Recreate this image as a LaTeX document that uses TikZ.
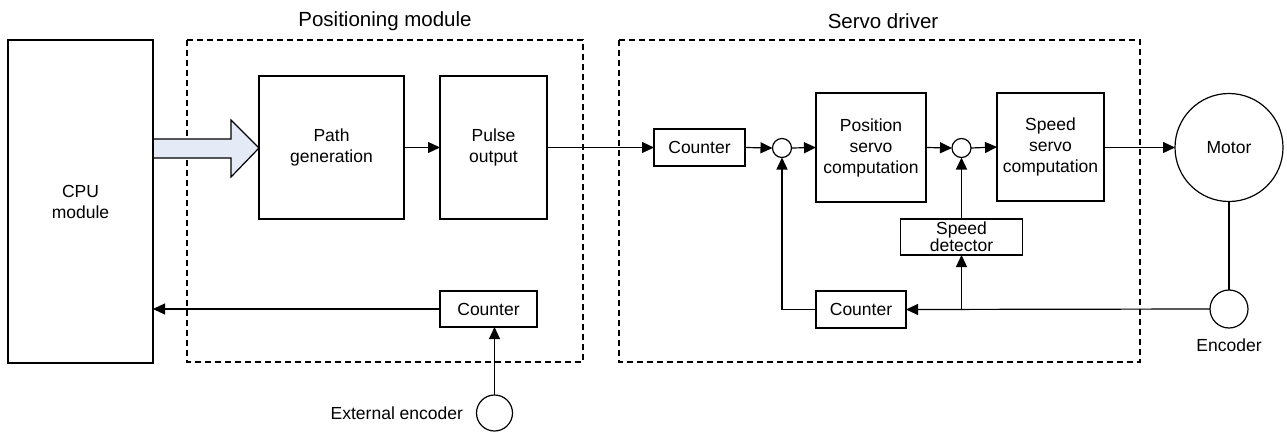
\documentclass[tikz,border=0pt]{standalone}
\usepackage{fontspec}
\setmainfont{Liberation Sans}
\usetikzlibrary{arrows.meta}
\definecolor{arrowfill}{RGB}{228,234,246}
\begin{document}
\begin{tikzpicture}[x=1pt,y=-1pt,
  every node/.style={inner sep=0pt, outer sep=0pt},
  box/.style={draw, line width=1.2pt, align=center, font=\fontsize{17.5}{21}\selectfont},
  sumpt/.style={draw, circle, line width=1.2pt, minimum size=19pt},
  roundel/.style={draw, circle, line width=1.2pt},
  lbl/.style={font=\fontsize{17.5}{21}\selectfont},
  ttl/.style={font=\fontsize{20.5}{24}\selectfont},
  grp/.style={draw, line width=1.2pt, dash pattern=on 6pt off 4pt},
  conn/.style={line width=1.2pt},
  arr/.style={line width=1.2pt, -{Triangle[length=12pt,width=11pt]}}
]
\useasboundingbox (0,0) rectangle (1287,436);
% group frames
\draw[grp] (187,40) rectangle (583,362);
\draw[grp] (619,40) rectangle (1140,362);
\node[ttl] (tpm) at (385,21) {Positioning module};
\node[ttl] (tsd) at (883,21) {Servo driver};
% big arrow
\draw[line width=1.2pt, fill=arrowfill] (153,139) -- (231,139) -- (231,120) -- (259,148) -- (231,177) -- (231,158) -- (153,158) -- cycle;
% blocks
\node[box, minimum width=145pt, minimum height=323pt] (cpu) at (80.5,201.5) {CPU\\module};
\node[box, minimum width=145pt, minimum height=143pt] (pg) at (331.5,147.5) {Path\\generation};
\node[box, minimum width=107pt, minimum height=143pt] (po) at (493.5,147.5) {Pulse\\output};
\node[box, minimum width=91pt, minimum height=37pt] (c1) at (699.5,147.5) {Counter};
\node[sumpt] (s1) at (782,148) {};
\node[box, minimum width=110pt, minimum height=109pt] (ps) at (871,147.5) {Position\\servo\\computation};
\node[sumpt] (s2) at (961.5,148) {};
\node[box, minimum width=107pt, minimum height=108pt] (ss) at (1050.5,147) {Speed\\servo\\computation};
\node[roundel, minimum size=108pt, lbl] (motor) at (1229,147.5) {Motor};
\node[roundel, minimum size=38pt] (enc) at (1229,309) {};
\node[lbl] (encl) at (1229,345) {Encoder};
\node[box, minimum width=122pt, minimum height=36pt, font=\fontsize{17.5}{16}\selectfont] (sd) at (961.5,237) {Speed\\detector};
\node[box, minimum width=90pt, minimum height=37pt] (c2) at (861,309.5) {Counter};
\node[box, minimum width=97pt, minimum height=36pt] (c3) at (488.5,309) {Counter};
\node[roundel, minimum size=36pt] (ext) at (494.5,413) {};
\node[lbl, anchor=east] (extl) at (463,413) {External encoder};
% connectors
\draw[arr] (pg.east) -- (po.west);
\draw[arr] (po.east) -- (c1.west);
\draw[arr] (c1.east) -- (s1.west);
\draw[arr] (s1.east) -- (ps.west);
\draw[arr] (ps.east) -- (s2.west);
\draw[arr] (s2.east) -- (ss.west);
\draw[arr] (ss.east |- motor.west) -- (motor.west);
\draw[conn] (motor.south) -- (enc.north);
\draw[arr] (enc.west) -- (c2.east);
\coordinate (br) at (sd.south |- c2.east);
\draw[arr] (br) -- (sd.south);
\draw[arr] (sd.north) -- (s2.south);
\draw[arr] (c2.west) -| (s1.south);
\draw[arr] (c3.west) -- (c3.west -| cpu.east);
\draw[arr] (ext.north) -- (ext.north |- c3.south);
\end{tikzpicture}
\end{document}
